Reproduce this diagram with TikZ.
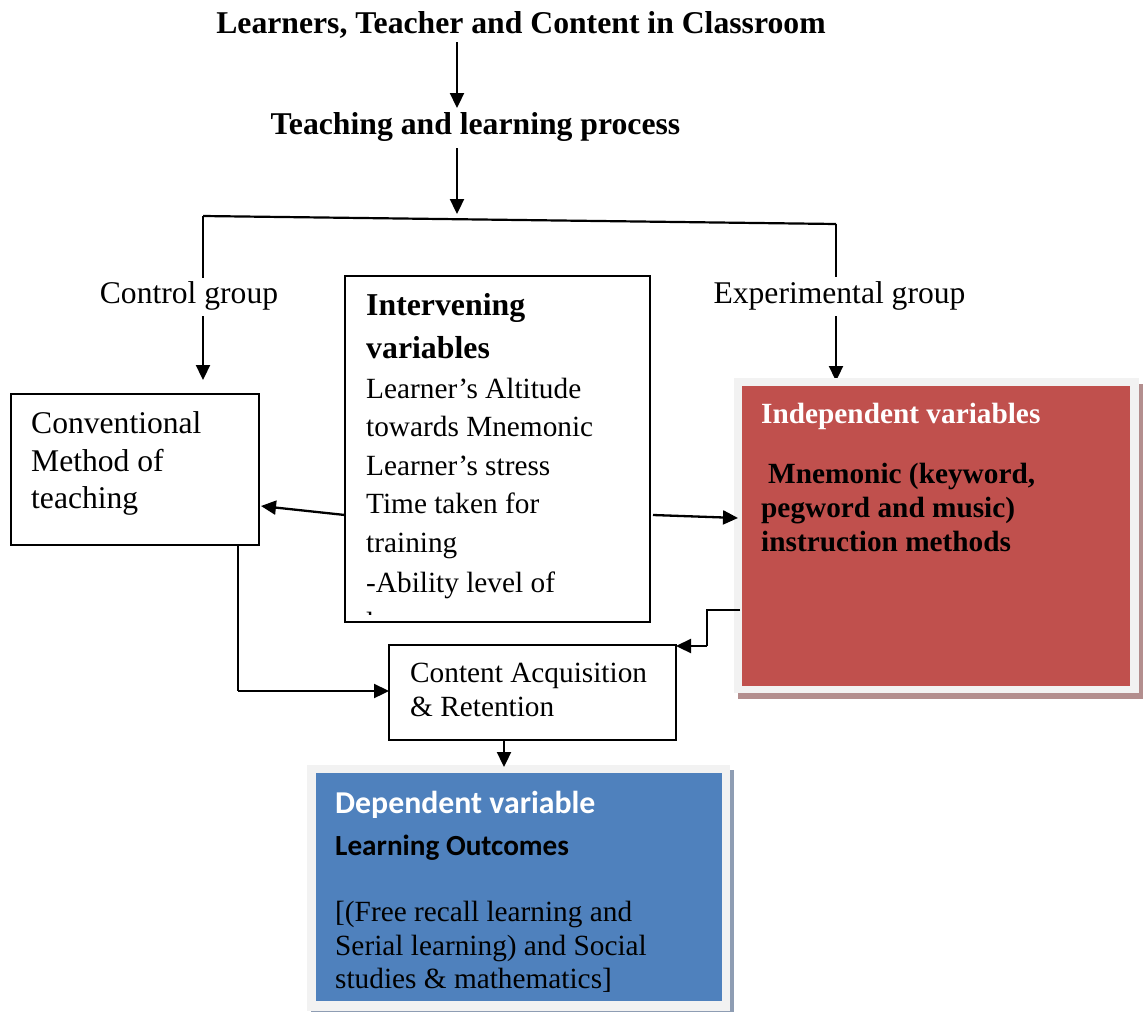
\documentclass[tikz,border=0pt]{standalone}
\usepackage{fontspec}
\setmainfont{Liberation Serif}
\newfontfamily\carlitofont{Carlito}
\usetikzlibrary{arrows.meta,calc}
\newcommand\myTitleF{\bfseries\fontsize{31.7}{38}\selectfont}
\newcommand\myBigF{\fontsize{31.6}{38}\selectfont}
\newcommand\myMidF{\fontsize{29.3}{35}\selectfont}
\newcommand\myMidBF{\bfseries\fontsize{29.3}{35}\selectfont}
\newcommand\myIntBF{\bfseries\fontsize{31.8}{38}\selectfont}
\definecolor{redfill}{HTML}{C0504D}
\definecolor{bluefill}{HTML}{4F81BD}
\definecolor{framegray}{HTML}{F2F2F2}
\definecolor{redshadow}{HTML}{B38E8E}
\definecolor{blueshadow}{HTML}{8E9DB3}
\begin{document}
\begin{tikzpicture}[x=1pt,y=-1pt,
  arr/.style={-{Triangle[length=15pt,width=14pt]}, line width=2.3pt},
  conn/.style={line width=2.2pt},
  wbox/.style={draw=black, line width=2.2pt, fill=white, anchor=north west, inner sep=0pt, outer sep=0pt},
  txt/.style={anchor=base west, inner sep=0pt, align=left},
  ctxt/.style={anchor=base, inner sep=0pt}]
\useasboundingbox (0,0) rectangle (1144,1012);

% titles
\node[ctxt, font=\myTitleF] (title) at (521,33) {Learners, Teacher and Content in Classroom};
\node[ctxt, font=\myTitleF] (process) at (475.5,134) {Teaching and learning process};
\coordinate (t1) at (457,42);
\coordinate (t2) at (457,108);
\coordinate (t3) at (457,148);
\coordinate (t4) at (457,214);
\draw[arr] (t1) -- (t2);
\draw[arr] (t3) -- (t4);

% branch
\coordinate (bl) at (203,216);
\coordinate (br) at (836,224);
\draw[conn] (bl) -- (br);
\node[ctxt, font=\myBigF] (ctrl) at (189,303) {Control group};
\node[ctxt, font=\myBigF] (expt) at (839.5,303) {Experimental group};
\coordinate (bl1) at (203,278);
\coordinate (bl2) at (203,316);
\coordinate (bl3) at (203,380);
\coordinate (br1) at (836,277);
\coordinate (br2) at (836,316);
\coordinate (br3) at (836,381);
\draw[conn] (bl) -- (bl1);
\draw[arr] (bl2) -- (bl3);
\draw[conn] (br) -- (br1);
\draw[arr] (br2) -- (br3);

% conventional box
\node[wbox, minimum width=248pt, minimum height=151pt] (conv) at (11,394) {};
\node[txt, font=\myBigF] (conv1) at (31,433) {Conventional};
\node[txt, font=\myBigF] (conv2) at (31,471) {Method of};
\node[txt, font=\myBigF] (conv3) at (31,508) {teaching};

% intervening box
\node[wbox, minimum width=305pt, minimum height=346pt] (inter) at (345,276) {};
\node[txt, font=\myIntBF] (int1) at (366,315) {Intervening};
\node[txt, font=\myIntBF] (int2) at (366,358) {variables};
\node[txt, font=\myMidF] (int3) at (366,398) {Learner’s Altitude};
\node[txt, font=\myMidF] (int4) at (366,436) {towards Mnemonic};
\node[txt, font=\myMidF] (int5) at (366,475) {Learner’s stress};
\node[txt, font=\myMidF] (int6) at (366,513) {Time taken for};
\node[txt, font=\myMidF] (int7) at (366,552) {training};
\node[txt, font=\myMidF] (int8) at (366,592) {-Ability level of};
\begin{scope}
  \clip (346,277) rectangle (649,614);
  \node[txt, font=\myMidF] (int9) at (366,632) {learners};
\end{scope}

% independent (red) box
\fill[redshadow] (738,384) rectangle (1143,699);
\node[fill=framegray, anchor=north west, inner sep=0pt, outer sep=0pt, minimum width=405pt, minimum height=315pt] (indep) at (734,378) {};
\node[fill=redfill, anchor=north west, inner sep=0pt, outer sep=0pt, minimum width=388pt, minimum height=300pt] (indepin) at (742,386) {};
\node[txt, font=\myMidBF, text=white] (ind1) at (761,423) {Independent variables};
\node[txt, font=\myMidBF] (ind2) at (768,483) {Mnemonic (keyword,};
\node[txt, font=\myMidBF] (ind3) at (761,517) {pegword and music)};
\node[txt, font=\myMidBF] (ind4) at (761,551) {instruction methods};

% content box
\node[wbox, minimum width=287pt, minimum height=95pt] (content) at (389,645) {};
\node[txt, font=\myMidF] (cont1) at (410,682) {Content Acquisition};
\node[txt, font=\myMidF] (cont2) at (410,716) {\& Retention};

% dependent (blue) box
\fill[blueshadow] (311,770) rectangle (734,1015);
\node[fill=framegray, anchor=north west, inner sep=0pt, outer sep=0pt, minimum width=423pt, minimum height=246pt] (dep) at (307,765) {};
\node[fill=bluefill, anchor=north west, inner sep=0pt, outer sep=0pt, minimum width=406pt, minimum height=228pt] (depin) at (316,773) {};
\node[txt, font=\carlitofont\bfseries\fontsize{31.8}{38}\selectfont, text=white] (dep1) at (335,813) {Dependent variable};
\node[txt, font=\carlitofont\bfseries\fontsize{29.2}{35}\selectfont] (dep2) at (335,855) {Learning Outcomes};
\node[txt, font=\myMidF] (dep3) at (335,921) {[(Free recall learning and};
\node[txt, font=\myMidF] (dep4) at (335,955) {Serial learning) and Social};
\node[txt, font=\myMidF] (dep5) at (335,988) {studies \& mathematics]};

% connectors
\draw[arr] ($(inter.north west)+(0,239)$) -- ($(conv.north east)+(2,112)$);
\draw[arr] ($(inter.north east)+(3,239)$) -- ($(indep.north west)+(4,140)$);
\coordinate (s1) at ($(indep.north west)+(6,232)$);
\coordinate (s2) at ($(indep.north west)+(-27,232)$);
\coordinate (s3) at ($(content.north east)+(31,1)$);
\draw[conn] (s1) -- (s2) -- (s3);
\draw[arr] (s3) -- ($(content.north east)+(0,1)$);
\coordinate (c1) at ($(conv.south west)+(227,0)$);
\coordinate (c2) at ($(content.north west)+(-151,46)$);
\draw[conn] (c1) -- (c2);
\draw[arr] (c2) -- ($(content.north west)+(0,46)$);
\draw[arr] ($(content.south west)+(115,0)$) -- ($(dep.north west)+(197,2)$);
\end{tikzpicture}
\end{document}
